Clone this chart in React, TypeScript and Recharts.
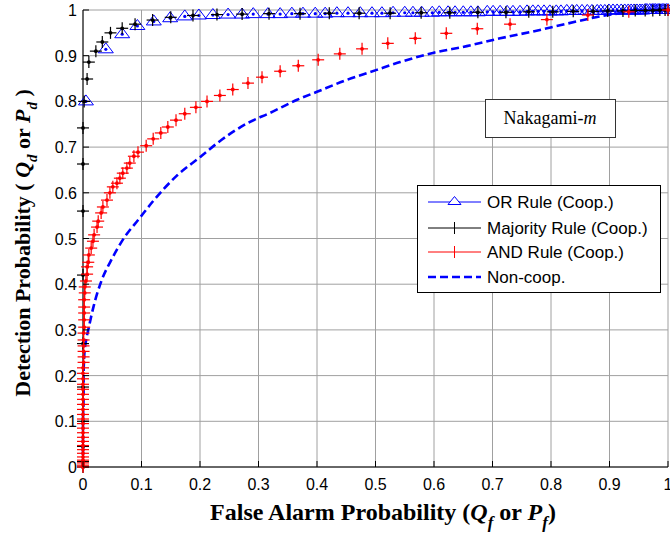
import React from "react";
import { ComposedChart, XAxis, YAxis, CartesianGrid, Scatter, Line } from "recharts";

const xTicks = [0, 0.1, 0.2, 0.3, 0.4, 0.5, 0.6, 0.7, 0.8, 0.9, 1];
const yTicks = [0, 0.1, 0.2, 0.3, 0.4, 0.5, 0.6, 0.7, 0.8, 0.9, 1];

// [Pf, Pd]
const orRule = [
  [0.005, 0.8], [0.039, 0.914], [0.067, 0.947], [0.093, 0.965], [0.121, 0.975], [0.149, 0.982],
  [0.174, 0.986], [0.198, 0.988], [0.222, 0.989], [0.248, 0.99], [0.272, 0.99], [0.291, 0.991],
  [0.316, 0.991], [0.337, 0.991], [0.357, 0.992], [0.376, 0.992], [0.397, 0.992], [0.414, 0.992],
  [0.434, 0.993], [0.453, 0.993], [0.474, 0.993], [0.494, 0.993], [0.511, 0.993], [0.53, 0.994],
  [0.55, 0.994], [0.564, 0.994], [0.579, 0.994], [0.597, 0.994], [0.609, 0.995], [0.624, 0.995],
  [0.636, 0.995], [0.65, 0.995], [0.663, 0.995], [0.675, 0.995], [0.691, 0.996], [0.701, 0.996],
  [0.713, 0.996], [0.725, 0.996], [0.735, 0.996], [0.747, 0.996], [0.759, 0.997], [0.769, 0.997],
  [0.778, 0.997], [0.788, 0.997], [0.798, 0.997], [0.809, 0.997], [0.817, 0.997], [0.827, 0.998],
  [0.836, 0.998], [0.844, 0.998], [0.853, 0.998], [0.862, 0.998], [0.87, 0.998], [0.879, 0.998],
  [0.885, 0.998], [0.892, 0.998], [0.899, 0.999], [0.906, 0.999], [0.913, 0.999], [0.92, 0.999],
  [0.926, 0.999], [0.932, 0.999], [0.937, 0.999], [0.942, 0.999], [0.947, 0.999], [0.952, 0.999],
  [0.956, 0.999], [0.961, 1], [0.964, 1], [0.969, 1], [0.973, 1], [0.976, 1], [0.979, 1],
  [0.983, 1], [0.986, 1], [0.99, 1], [0.993, 1], [0.997, 1], [1, 1],
];

const majorityRule = [
  [0, 0], [0, 0.012], [0, 0.045], [0, 0.1], [0, 0.175], [0, 0.27], [0, 0.42], [0, 0.56],
  [0, 0.663], [0, 0.742], [0.002, 0.8], [0.007, 0.849], [0.01, 0.886], [0.022, 0.91],
  [0.033, 0.93], [0.047, 0.95], [0.067, 0.96], [0.089, 0.969], [0.119, 0.978], [0.15, 0.984],
  [0.188, 0.988], [0.229, 0.99], [0.272, 0.991], [0.318, 0.992], [0.371, 0.992], [0.421, 0.993],
  [0.472, 0.993], [0.525, 0.993], [0.578, 0.994], [0.627, 0.994], [0.675, 0.995], [0.723, 0.995],
  [0.762, 0.996], [0.803, 0.996], [0.838, 0.997], [0.872, 0.997], [0.897, 0.998], [0.923, 0.998],
  [0.944, 0.999], [0.961, 0.999], [0.974, 0.999], [0.986, 1], [0.995, 1], [1, 1],
];

const andRule = [
  [0, 0], [0, 0.004], [0, 0.009], [0, 0.015], [0, 0.022], [0, 0.03], [0, 0.038], [0, 0.047],
  [0, 0.056], [0, 0.065], [0, 0.075], [0, 0.085], [0, 0.095], [0, 0.105], [0, 0.115], [0, 0.126],
  [0, 0.137], [0, 0.148], [0, 0.159], [0, 0.17], [0, 0.181], [0, 0.193], [0, 0.205], [0, 0.217],
  [0.001, 0.229], [0.001, 0.241], [0.001, 0.253], [0.001, 0.265], [0.001, 0.278], [0.001, 0.293],
  [0.002, 0.306], [0.002, 0.322], [0.002, 0.337], [0.002, 0.35], [0.002, 0.366], [0.003, 0.381],
  [0.003, 0.394], [0.005, 0.407], [0.007, 0.422], [0.007, 0.438], [0.009, 0.448], [0.01, 0.464],
  [0.014, 0.479], [0.017, 0.494], [0.019, 0.508], [0.024, 0.525], [0.026, 0.538], [0.031, 0.556],
  [0.034, 0.569], [0.041, 0.584], [0.046, 0.6], [0.051, 0.613], [0.058, 0.621], [0.063, 0.632],
  [0.068, 0.643], [0.075, 0.654], [0.08, 0.665], [0.087, 0.68], [0.094, 0.689], [0.108, 0.703],
  [0.12, 0.718], [0.133, 0.731], [0.145, 0.744], [0.159, 0.759], [0.174, 0.773], [0.193, 0.787],
  [0.212, 0.8], [0.234, 0.813], [0.256, 0.826], [0.282, 0.84], [0.306, 0.853], [0.337, 0.866],
  [0.368, 0.878], [0.402, 0.891], [0.439, 0.904], [0.477, 0.915], [0.521, 0.927], [0.568, 0.938],
  [0.621, 0.949], [0.674, 0.959], [0.73, 0.969], [0.793, 0.979], [0.863, 0.989], [0.933, 0.996],
  [1, 1],
];

const nonCoop = [
  [0, 0], [0, 0.05], [0, 0.1], [0.001, 0.154], [0.001, 0.2], [0.002, 0.241], [0.005, 0.275],
  [0.009, 0.3], [0.018, 0.351], [0.032, 0.409], [0.048, 0.452], [0.068, 0.497], [0.097, 0.545],
  [0.12, 0.582], [0.16, 0.637], [0.2, 0.678], [0.237, 0.716], [0.282, 0.753], [0.32, 0.775],
  [0.365, 0.803], [0.4, 0.821], [0.451, 0.847], [0.502, 0.869], [0.542, 0.886], [0.598, 0.906],
  [0.656, 0.921], [0.713, 0.938], [0.769, 0.953], [0.827, 0.97], [0.884, 0.986], [0.913, 0.992],
  [0.95, 0.997], [1, 1],
];

const toXY = (pts: number[][]) => pts.map(([x, y]) => ({ x, y }));

const BLUE = "#0000ff";
const RED = "#ff0000";
const sans = "'Liberation Sans', Arial, sans-serif";
const serif = "'Liberation Serif', 'Times New Roman', serif";

const triangle = (cx: number, cy: number, w: number, up: number, down: number) =>
  `M${cx},${cy - up} L${cx + w},${cy + down} L${cx - w},${cy + down} Z`;

function OrMark({ cx, cy }: any) {
  if (cx == null || cy == null) return null;
  return (
    <g>
      <path d={triangle(cx, cy, 7.5, 6.5, 3.5)} fill="none" stroke={BLUE} strokeWidth={1} />
      <circle cx={cx} cy={cy} r={1.6} fill={BLUE} />
    </g>
  );
}

function PlusMark({ cx, cy, color }: any) {
  if (cx == null || cy == null) return null;
  return (
    <g>
      <line x1={cx - 6} x2={cx + 6} y1={cy} y2={cy} stroke={color} strokeWidth={1.2} />
      <line x1={cx} x2={cx} y1={cy - 6} y2={cy + 6} stroke={color} strokeWidth={1.2} />
      <circle cx={cx} cy={cy} r={1.9} fill={color} />
    </g>
  );
}

function BottomTick({ x, y, payload }: any) {
  return (
    <g>
      <line x1={x} x2={x} y1={y} y2={y - 6} stroke="#000" />
      <text x={x} y={y + 23} textAnchor="middle" fontSize={16} fontFamily={sans} fill="#000">
        {payload.value}
      </text>
    </g>
  );
}

function LeftTick({ x, y, payload }: any) {
  return (
    <g>
      <line x1={x} x2={x + 6} y1={y} y2={y} stroke="#000" />
      <text x={x - 6} y={y + 6} textAnchor="end" fontSize={16} fontFamily={sans} fill="#000">
        {payload.value}
      </text>
    </g>
  );
}

function TopTick({ x, y }: any) {
  return <line x1={x} x2={x} y1={y} y2={y + 6} stroke="#000" />;
}

function RightTick({ x, y }: any) {
  return <line x1={x} x2={x - 6} y1={y} y2={y} stroke="#000" />;
}

function Overlay() {
  const rows = [202, 228, 252, 277];
  return (
    <svg width={670} height={535} style={{ position: "absolute", left: 0, top: 0, pointerEvents: "none" }}>
      {/* legend */}
      <rect x={417.5} y={185.5} width={243} height={107} fill="#fff" stroke="#000" />
      <line x1={428} x2={481} y1={rows[0]} y2={rows[0]} stroke={BLUE} />
      <path d={triangle(454.5, rows[0], 6.5, 5.5, 2.5)} fill="#fff" stroke={BLUE} />
      <line x1={428} x2={481} y1={rows[1]} y2={rows[1]} stroke="#000" />
      <line x1={454.5} x2={454.5} y1={rows[1] - 6} y2={rows[1] + 6} stroke="#000" />
      <line x1={428} x2={481} y1={rows[2]} y2={rows[2]} stroke={RED} />
      <line x1={454.5} x2={454.5} y1={rows[2] - 6} y2={rows[2] + 6} stroke={RED} />
      <line x1={428} x2={481} y1={rows[3]} y2={rows[3]} stroke={BLUE} strokeWidth={2.5} strokeDasharray="8 4" />
      {["OR Rule (Coop.)", "Majority Rule (Coop.)", "AND Rule (Coop.)", "Non-coop."].map((t, i) => (
        <text key={t} x={487} y={rows[i] + 6} fontSize={17} fontFamily={sans} fill="#000">
          {t}
        </text>
      ))}

      {/* annotation */}
      <rect x={485.5} y={99.5} width={130} height={38} fill="#fff" stroke="#333" />
      <text x={550} y={124} textAnchor="middle" fontSize={18} fontFamily={serif} fill="#000">
        Nakagami-<tspan fontStyle="italic">m</tspan>
      </text>

      {/* axis titles */}
      <text x={383} y={520} textAnchor="middle" fontSize={24} fontWeight="bold" fontFamily={serif} fill="#000">
        False Alarm Probability (<tspan fontStyle="italic">Q</tspan>
        <tspan fontStyle="italic" fontSize={17} dy={8}>f</tspan>
        <tspan dy={-8}> or </tspan>
        <tspan fontStyle="italic">P</tspan>
        <tspan fontStyle="italic" fontSize={17} dy={8}>f</tspan>
        <tspan dy={-8}>)</tspan>
      </text>
      <text
        transform="translate(30,243) rotate(-90)"
        x={0}
        y={0}
        textAnchor="middle"
        fontSize={22}
        fontWeight="bold"
        fontFamily={serif}
        fill="#000"
      >
        Detection Probability ( <tspan fontStyle="italic">Q</tspan>
        <tspan fontStyle="italic" fontSize={15} dy={7}>d</tspan>
        <tspan dy={-7}> or </tspan>
        <tspan fontStyle="italic">P</tspan>
        <tspan fontStyle="italic" fontSize={15} dy={7}>d</tspan>
        <tspan dy={-7}> )</tspan>
      </text>
    </svg>
  );
}

export default function App() {
  return (
    <div style={{ position: "absolute", left: 0, top: 0, width: 670, height: 535, background: "#fff" }}>
      <ComposedChart width={670} height={535} margin={{ top: 10, right: 2, bottom: 38, left: 8 }}>
        <CartesianGrid stroke="#a0a0a0" strokeWidth={1} />
        <XAxis
          xAxisId={0}
          type="number"
          dataKey="x"
          domain={[0, 1]}
          ticks={xTicks}
          interval={0}
          height={30}
          tickSize={0}
          tickMargin={0}
          tickLine={false}
          axisLine={{ stroke: "#000" }}
          tick={(p: any) => <BottomTick {...p} />}
        />
        <XAxis
          xAxisId="top"
          orientation="top"
          type="number"
          dataKey="x"
          domain={[0, 1]}
          ticks={xTicks}
          interval={0}
          height={0}
          tickSize={0}
          tickMargin={0}
          tickLine={false}
          axisLine={{ stroke: "#000" }}
          tick={(p: any) => <TopTick {...p} />}
        />
        <YAxis
          yAxisId={0}
          type="number"
          dataKey="y"
          domain={[0, 1]}
          ticks={yTicks}
          interval={0}
          width={75}
          tickSize={0}
          tickMargin={0}
          tickLine={false}
          axisLine={{ stroke: "#000" }}
          tick={(p: any) => <LeftTick {...p} />}
        />
        <YAxis
          yAxisId="right"
          orientation="right"
          type="number"
          dataKey="y"
          domain={[0, 1]}
          ticks={yTicks}
          interval={0}
          width={0}
          tickSize={0}
          tickMargin={0}
          tickLine={false}
          axisLine={{ stroke: "#000" }}
          tick={(p: any) => <RightTick {...p} />}
        />
        <Line
          data={toXY(nonCoop)}
          dataKey="y"
          type="monotoneX"
          stroke={BLUE}
          strokeWidth={2.6}
          strokeDasharray="8 4"
          dot={false}
          activeDot={false}
          isAnimationActive={false}
        />
        <Scatter data={toXY(orRule)} shape={(p: any) => <OrMark {...p} />} isAnimationActive={false} />
        <Scatter
          data={toXY(majorityRule)}
          shape={(p: any) => <PlusMark {...p} color="#000" />}
          isAnimationActive={false}
        />
        <Scatter data={toXY(andRule)} shape={(p: any) => <PlusMark {...p} color={RED} />} isAnimationActive={false} />
      </ComposedChart>
      <Overlay />
    </div>
  );
}
